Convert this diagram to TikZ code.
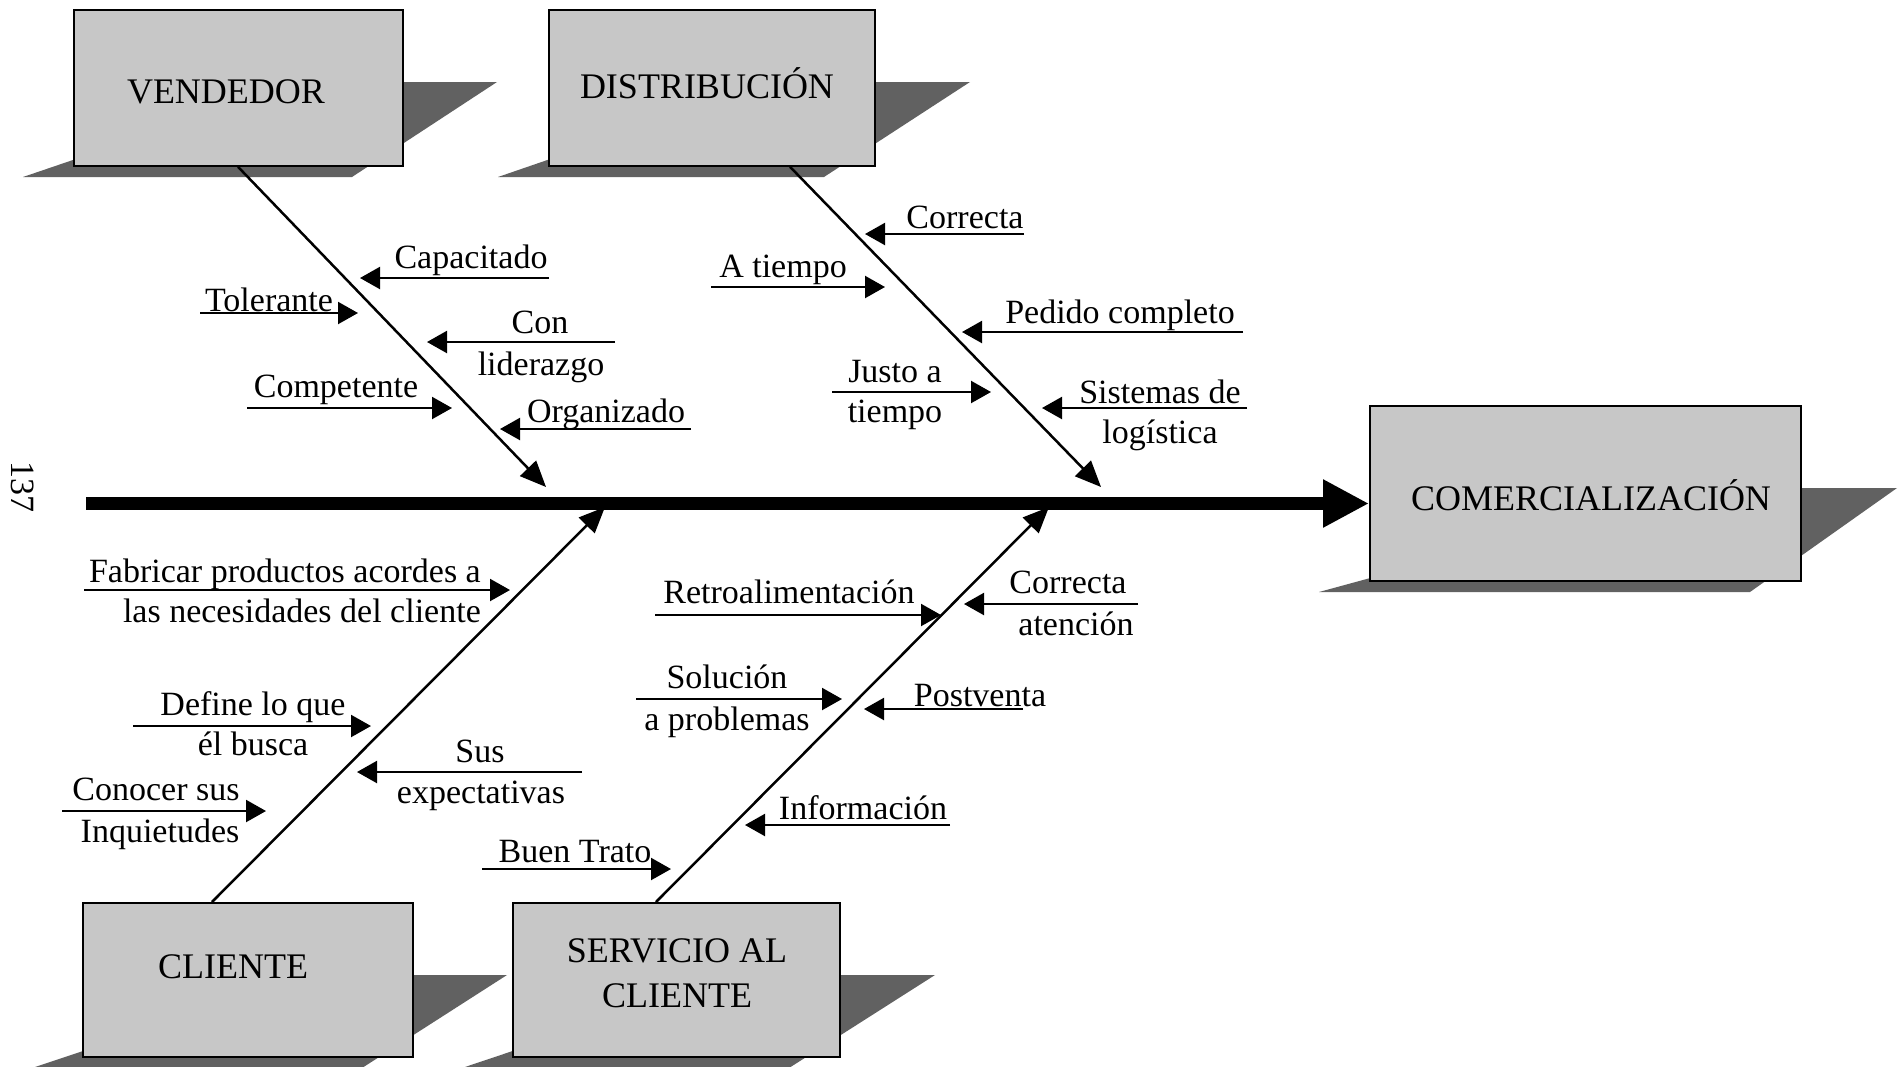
\documentclass[tikz,border=0pt]{standalone}
\usepackage{fontspec}
\setmainfont{Liberation Serif}
\usetikzlibrary{arrows.meta}
\begin{document}
\begin{tikzpicture}[x=1pt,y=-1pt,
 boxnode/.style={draw=black, line width=1.8pt, fill=black!22, inner sep=0pt, anchor=north west},
 shade/.style={fill=black!62},
 lbl/.style={font=\fontsize{34}{40}\selectfont, inner sep=0pt, anchor=base},
 ttl/.style={font=\fontsize{36}{44}\selectfont, inner sep=0pt, anchor=base},
 sub/.style={line width=2.2pt, -{Triangle[length=20pt,width=22pt]}},
 bone/.style={line width=2.5pt, -{Triangle[length=26pt,width=22pt]}},
 spine/.style={line width=13pt, -{Triangle[length=46pt,width=45pt]}}]
\fill[white] (0,0) rectangle (1904,1066);
\useasboundingbox (0,0) rectangle (1904,1066);

% shadows
\fill[shade] (23,177) -- (352,177) -- (497,82) -- (302,82) -- cycle;
\fill[shade] (498,177) -- (824,177) -- (970,82) -- (774,82) -- cycle;
\fill[shade] (1319,592) -- (1750,592) -- (1897,488) -- (1700,488) -- cycle;
\fill[shade] (32,1068) -- (362,1068) -- (507,975) -- (312,975) -- cycle;
\fill[shade] (462,1068) -- (789,1068) -- (935,975) -- (739,975) -- cycle;

% boxes
\node[boxnode, minimum width=329pt, minimum height=156pt] (vend) at (73,9) {};
\node[boxnode, minimum width=326pt, minimum height=156pt] (dist) at (548,9) {};
\node[boxnode, minimum width=431pt, minimum height=175pt] (com) at (1369,405) {};
\node[boxnode, minimum width=330pt, minimum height=154pt] (cli) at (82,902) {};
\node[boxnode, minimum width=327pt, minimum height=154pt] (serv) at (512,902) {};

\node[ttl] (vendT) at (226,103) {VENDEDOR};
\node[ttl] (distT) at (707,98) {DISTRIBUCIÓN};
\node[ttl] (comT) at (1591,510) {COMERCIALIZACIÓN};
\node[ttl] (cliT) at (233,978) {CLIENTE};
\node[ttl] (servTa) at (677,962) {SERVICIO AL};
\node[ttl] (servTb) at (677,1007) {CLIENTE};

% page number
\node[font=\fontsize{34}{40}\selectfont, inner sep=0pt, rotate=-90] (pg) at (23,487) {137};

% spine
\coordinate (sps) at (86,503.5);
\draw[spine] (sps) -- (com.west |- sps);

% bones
\coordinate (vtip) at (546,487);
\coordinate (dtip) at (1101,487);
\coordinate (ctip) at (605,507);
\coordinate (stip) at (1049,507);
\draw[bone] ([xshift=165pt]vend.south west) -- (vtip);
\draw[bone] ([xshift=242pt]dist.south west) -- (dtip);
\draw[bone] ([xshift=130pt]cli.north west) -- (ctip);
\draw[bone] ([xshift=144pt]serv.north west) -- (stip);

% VENDEDOR causes
\node[lbl] (capL) at (471,268) {Capacitado};
\coordinate (capA) at (549,278); \coordinate (capB) at (360,278);
\draw[sub] (capA) -- (capB);
\node[lbl] (tolL) at (269,311) {Tolerante};
\coordinate (tolA) at (200,313); \coordinate (tolB) at (358,313);
\draw[sub] (tolA) -- (tolB);
\node[lbl] (conLa) at (540,333) {Con};
\node[lbl] (conLb) at (541,375) {liderazgo};
\coordinate (conA) at (615,342); \coordinate (conB) at (427,342);
\draw[sub] (conA) -- (conB);
\node[lbl] (cmpL) at (336,397) {Competente};
\coordinate (cmpA) at (247,408); \coordinate (cmpB) at (452,408);
\draw[sub] (cmpA) -- (cmpB);
\node[lbl] (orgL) at (606,422) {Organizado};
\coordinate (orgA) at (691,429); \coordinate (orgB) at (500,429);
\draw[sub] (orgA) -- (orgB);

% DISTRIBUCION causes
\node[lbl] (corL) at (965,228) {Correcta};
\coordinate (corA) at (1024,234); \coordinate (corB) at (865,234);
\draw[sub] (corA) -- (corB);
\node[lbl] (atiL) at (783,277) {A tiempo};
\coordinate (atiA) at (711,287); \coordinate (atiB) at (885,287);
\draw[sub] (atiA) -- (atiB);
\node[lbl] (pedL) at (1120,323) {Pedido completo};
\coordinate (pedA) at (1243,332); \coordinate (pedB) at (962,332);
\draw[sub] (pedA) -- (pedB);
\node[lbl] (jusLa) at (895,382) {Justo a};
\node[lbl] (jusLb) at (895,422) {tiempo};
\coordinate (jusA) at (832,392); \coordinate (jusB) at (991,392);
\draw[sub] (jusA) -- (jusB);
\node[lbl] (sisLa) at (1160,403) {Sistemas de};
\node[lbl] (sisLb) at (1160,443) {logística};
\coordinate (sisA) at (1247,408); \coordinate (sisB) at (1042,408);
\draw[sub] (sisA) -- (sisB);

% CLIENTE causes
\node[lbl, anchor=base east] (fabLa) at (481,582) {Fabricar productos acordes a};
\node[lbl, anchor=base east] (fabLb) at (481,622) {las necesidades del cliente};
\coordinate (fabA) at (84,590); \coordinate (fabB) at (510,590);
\draw[sub] (fabA) -- (fabB);
\node[lbl] (defLa) at (253,715) {Define lo que};
\node[lbl] (defLb) at (253,755) {él busca};
\coordinate (defA) at (133,726); \coordinate (defB) at (371,726);
\draw[sub] (defA) -- (defB);
\node[lbl] (susLa) at (480,762) {Sus};
\node[lbl] (susLb) at (481,803) {expectativas};
\coordinate (susA) at (582,772); \coordinate (susB) at (357,772);
\draw[sub] (susA) -- (susB);
\node[lbl] (conoLa) at (156,800) {Conocer sus};
\node[lbl] (conoLb) at (160,842) {Inquietudes};
\coordinate (conoA) at (62,811); \coordinate (conoB) at (266,811);
\draw[sub] (conoA) -- (conoB);

% SERVICIO causes
\node[lbl] (buenL) at (575,862) {Buen Trato};
\coordinate (buenA) at (482,869); \coordinate (buenB) at (671,869);
\draw[sub] (buenA) -- (buenB);
\node[lbl] (retL) at (789,603) {Retroalimentación};
\coordinate (retA) at (655,615); \coordinate (retB) at (941,615);
\draw[sub] (retA) -- (retB);
\node[lbl] (catLa) at (1068,593) {Correcta};
\node[lbl] (catLb) at (1076,635) {atención};
\coordinate (catA) at (1138,604); \coordinate (catB) at (964,604);
\draw[sub] (catA) -- (catB);
\node[lbl] (solLa) at (727,688) {Solución};
\node[lbl] (solLb) at (727,730) {a problemas};
\coordinate (solA) at (636,699); \coordinate (solB) at (842,699);
\draw[sub] (solA) -- (solB);
\node[lbl] (posL) at (980,706) {Postventa};
\coordinate (posA) at (1023,709); \coordinate (posB) at (864,709);
\draw[sub] (posA) -- (posB);
\node[lbl] (infL) at (863,819) {Información};
\coordinate (infA) at (950,825); \coordinate (infB) at (745,825);
\draw[sub] (infA) -- (infB);
\end{tikzpicture}
\end{document}
